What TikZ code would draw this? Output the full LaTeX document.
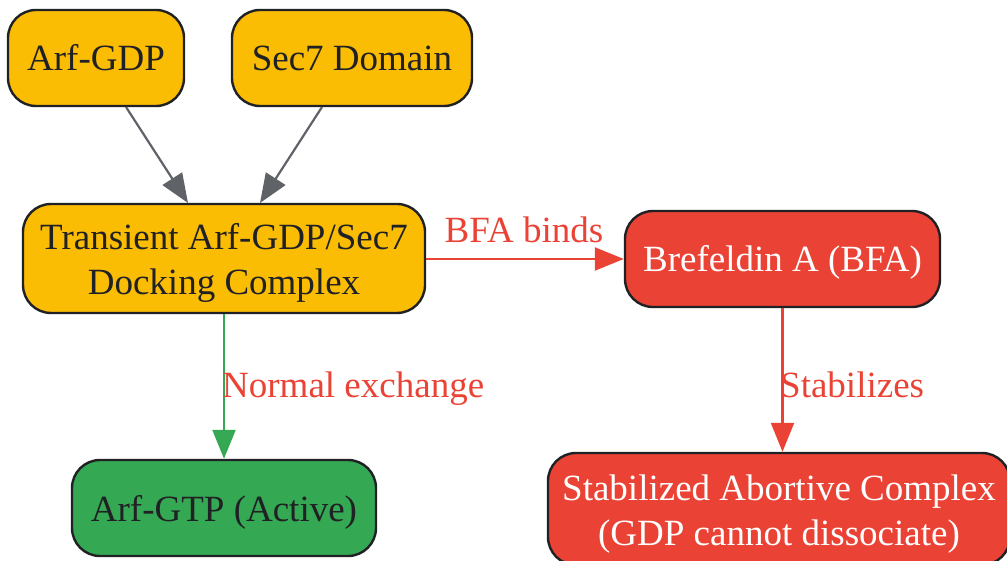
\documentclass[tikz,border=0pt]{standalone}
\usepackage{fontspec}
\setmainfont{Liberation Serif}
\usetikzlibrary{arrows.meta}
\definecolor{gyellow}{HTML}{FBBC04}
\definecolor{gred}{HTML}{EA4335}
\definecolor{ggreen}{HTML}{34A853}
\definecolor{ggray}{HTML}{5F6368}
\definecolor{bd}{HTML}{202124}
\tikzset{
  box/.style={draw=bd, line width=2.4pt, rounded corners=28pt, align=center,
    font=\fontsize{37}{45}\selectfont, inner sep=0pt, text=bd,
    text height=34pt, text depth=8pt},
  twoline/.style={text height=80pt, text depth=7pt},
  ybox/.style={box, fill=gyellow},
  rbox/.style={box, fill=gred, text=white},
  gbox/.style={box, fill=ggreen},
  conn/.style={line width=2.2pt, -{Triangle[length=29pt,width=23pt]}},
  elabel/.style={text=gred, font=\fontsize{37}{45}\selectfont, inner sep=0pt},
}
\begin{document}
\begin{tikzpicture}[x=1pt,y=-1pt]
\useasboundingbox (0,0) rectangle (1007,561);
\node[ybox, minimum width=176pt, minimum height=96pt] (arf) at (96,58) {Arf-GDP};
\node[ybox, minimum width=240pt, minimum height=96pt] (sec) at (352,58) {Sec7 Domain};
\node[ybox, twoline, minimum width=402pt, minimum height=109pt] (tr) at (224,258.5) {Transient Arf-GDP/Sec7\\Docking Complex};
\node[rbox, minimum width=315pt, minimum height=96pt] (bfa) at (782.5,259) {Brefeldin A (BFA)};
\node[gbox, minimum width=304pt, minimum height=96pt] (gtp) at (224,508) {Arf-GTP (Active)};
\node[rbox, twoline, minimum width=462pt, minimum height=112pt] (stab) at (779,509) {Stabilized Abortive Complex\\(GDP cannot dissociate)};
\coordinate (a1) at (126,107);
\coordinate (a2) at (188,203);
\coordinate (s1) at (322,107);
\coordinate (s2) at (260,203);
\draw[conn, ggray] (a1) -- (a2);
\draw[conn, ggray] (s1) -- (s2);
\draw[conn, gred] (tr.east |- bfa.west) -- (bfa.west);
\draw[conn, ggreen] (tr.south) -- (gtp.north);
\draw[conn, gred] (bfa.south) -- (bfa.south |- stab.north);
\node[elabel, anchor=base] (l1) at (524,243) {BFA binds};
\node[elabel, anchor=base west] (l2) at (222,397) {Normal exchange};
\node[elabel, anchor=base west] (l3) at (780,397) {Stabilizes};
\end{tikzpicture}
\end{document}
